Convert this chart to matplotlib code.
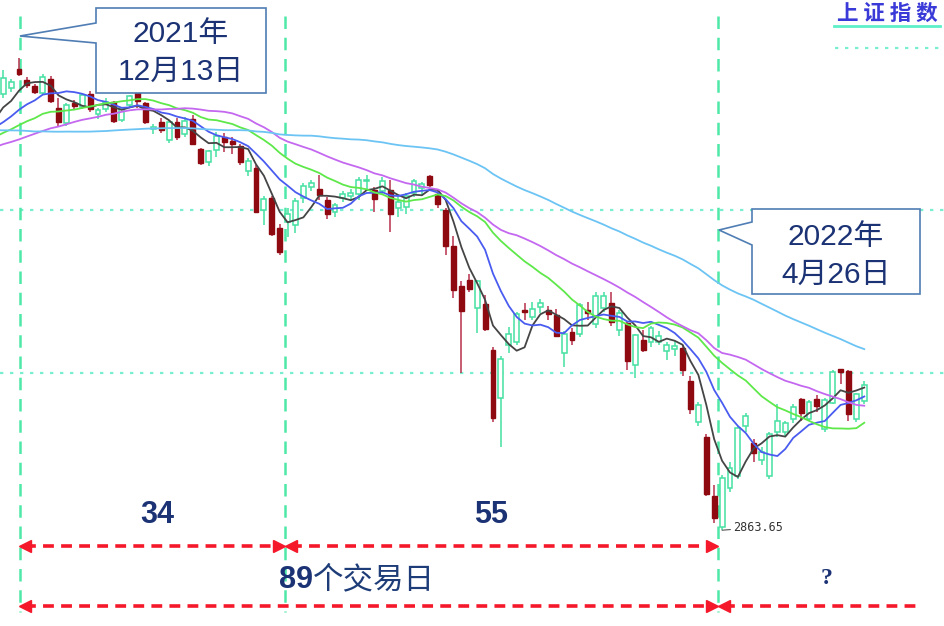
import numpy as np
import pandas as pd
import matplotlib
matplotlib.use("Agg")
import matplotlib.pyplot as plt
from matplotlib import font_manager as fm
from matplotlib.patches import Polygon

# Shanghai Composite daily candles, 2021-12-09 .. 2022-05-26 (day 0 = 2021-12-13)
opens = [3645, 3655, 3690, 3670, 3659, 3646, 3672, 3620, 3593, 3628, 3622, 3645, 3608, 3617, 3630, 3598, 3625,
         3649, 3628, 3581, 3594, 3562, 3594, 3572, 3600, 3546, 3522, 3545, 3568, 3560, 3552, 3507, 3512, 3436, 3458, 3405,
         3415, 3410, 3458, 3478, 3475, 3455, 3433, 3458, 3462, 3465, 3488, 3472, 3470, 3472, 3440, 3443,
         3468, 3476, 3497, 3465, 3437, 3372, 3300, 3312, 3262, 3268, 3186, 3100, 3196, 3200, 3258, 3245, 3264, 3258, 3248, 3180, 3218, 3215, 3258,
         3232, 3262, 3270, 3222, 3235, 3160, 3205, 3200, 3200, 3185, 3188, 3190, 3130, 3058, 3030, 2925, 2870, 2940, 2960,
         3050, 3020, 2990, 2960, 3040, 3040, 3062, 3098, 3062, 3098, 3045, 3092, 3152, 3148, 3062, 3095]
highs = [3688, 3672, 3708, 3674, 3662, 3680, 3676, 3638, 3628, 3634, 3647, 3650, 3620, 3637, 3632, 3621, 3642,
         3652, 3631, 3590, 3601, 3598, 3602, 3603, 3606, 3548, 3544, 3576, 3575, 3567, 3555, 3530, 3517, 3462, 3461, 3412,
         3440, 3458, 3486, 3491, 3500, 3460, 3450, 3470, 3475, 3495, 3500, 3478, 3495, 3490, 3460, 3468,
         3492, 3487, 3500, 3475, 3440, 3390, 3310, 3322, 3312, 3285, 3192, 3175, 3228, 3255, 3270, 3272, 3278, 3265, 3260, 3220, 3225, 3270, 3272,
         3290, 3290, 3290, 3258, 3237, 3215, 3222, 3230, 3220, 3200, 3203, 3195, 3140, 3093, 3035, 2945, 2962, 2985, 3050,
         3073, 3027, 3012, 3040, 3090, 3060, 3090, 3100, 3096, 3105, 3100, 3150, 3153, 3150, 3110, 3130]
lows = [3638, 3648, 3676, 3655, 3644, 3642, 3628, 3588, 3588, 3615, 3618, 3612, 3600, 3612, 3593, 3595, 3620,
        3620, 3590, 3572, 3574, 3556, 3562, 3568, 3553, 3517, 3515, 3531, 3540, 3537, 3518, 3497, 3431, 3410, 3390, 3357,
        3388, 3395, 3450, 3470, 3455, 3420, 3425, 3452, 3455, 3455, 3470, 3433, 3465, 3397, 3425, 3430,
        3460, 3462, 3478, 3440, 3356, 3280, 3145, 3290, 3217, 3220, 3058, 3013, 3180, 3195, 3240, 3240, 3252, 3240, 3210, 3155, 3195, 3210, 3240,
        3225, 3255, 3230, 3212, 3150, 3136, 3182, 3192, 3196, 3168, 3175, 3140, 3072, 3050, 2925, 2877, 2863.65, 2932, 2955,
        3040, 2985, 2980, 2955, 3030, 3030, 3055, 3060, 3060, 3075, 3040, 3090, 3125, 3060, 3058, 3090]
closes = [3673, 3666, 3681, 3661, 3648, 3675, 3632, 3594, 3625, 3623, 3643, 3618, 3616, 3630, 3597, 3619, 3640,
          3632, 3595, 3586, 3580, 3594, 3567, 3597, 3555, 3521, 3542, 3570, 3558, 3555, 3523, 3524, 3433, 3456, 3394, 3361,
          3430, 3453, 3480, 3486, 3463, 3429, 3446, 3466, 3468, 3491, 3491, 3457, 3489, 3430, 3451, 3462,
          3489, 3484, 3481, 3448, 3373, 3294, 3256, 3296, 3310, 3224, 3064, 3171, 3215, 3251, 3254, 3260, 3271, 3250, 3212, 3215, 3204, 3267, 3252,
          3283, 3283, 3237, 3252, 3167, 3213, 3187, 3226, 3211, 3196, 3194, 3151, 3080, 3087, 2929, 2886, 2958, 2975, 3047,
          3068, 3002, 3004, 3036, 3059, 3055, 3084, 3074, 3094, 3086, 3097, 3147, 3147, 3071, 3107, 3123]
# closes before the visible window (2021-09-07 .. 2021-12-08), only used for the moving averages
prior_closes = [3676, 3675, 3693, 3703, 3715, 3662, 3656, 3607, 3613, 3628, 3642, 3613, 3582, 3602, 3536, 3568,
                3592, 3591, 3547, 3562, 3558, 3572, 3568, 3593, 3587, 3594, 3583, 3610, 3598, 3562, 3518, 3547,
                3545, 3505, 3498, 3526, 3491, 3498, 3507, 3492, 3532, 3539, 3533, 3521, 3537, 3520, 3560, 3582,
                3589, 3592, 3584, 3564, 3562, 3564,
                3576, 3573, 3608, 3589, 3595, 3637]
ma_periods = [5, 10, 20, 30, 60]
ma_colors = ['#454545', '#4a5cf0', '#5ee84a', '#c468f0', '#6cc4f4']
low_label = '2863.65'
low_day = 89

W, H = 945, 626


def fx(px):
    return px / W


def fy(py):
    return 1 - py / H


fonts = {f.name for f in fm.fontManager.ttflist}
narrow = 'Liberation Sans Narrow' if 'Liberation Sans Narrow' in fonts else 'Liberation Sans'
cjk = ['Liberation Sans', 'Noto Sans CJK SC', 'DejaVu Sans']
navy = '#1b3274'

fig = plt.figure(figsize=(W / 100, H / 100), dpi=100)
ax = fig.add_axes([0, 0, 1, 1])
ax.axis('off')
ax.set_xlim(-2.405, 117.22)
ax.set_ylim(2692.2, 3812.7)

# candles
pos = np.arange(-2, -2 + len(closes))
o = np.array(opens, float)
hi = np.array(highs, float)
lo = np.array(lows, float)
c = np.array(closes, float)
up = c >= o
green = '#45e0a0'
red = '#8e0a10'
ax.vlines(pos[up], lo[up], hi[up], color=green, lw=1.1, zorder=2)
ax.vlines(pos[~up], lo[~up], hi[~up], color='#b8304c', lw=1.1, zorder=2)
ax.bar(pos[up], c[up] - o[up], bottom=o[up], width=0.62, facecolor='white',
       edgecolor=green, lw=1.1, zorder=2.5)
ax.bar(pos[~up], o[~up] - c[~up], bottom=c[~up], width=0.62, facecolor=red,
       edgecolor=red, lw=1.0, zorder=2.5)

# moving averages
allc = pd.Series(prior_closes + closes, dtype=float)
allpos = np.arange(-2 - len(prior_closes), -2 + len(closes))
for p, col in zip(ma_periods, ma_colors):
    ma = allc.rolling(p).mean()
    keep = allpos >= -3
    ax.plot(allpos[keep], ma[keep], color=col, lw=1.3, zorder=3)

# low label
ax.annotate(low_label, xy=(low_day, lows[low_day + 2]), xytext=(8, 2), textcoords='offset points',
            fontsize=8.5, family='DejaVu Sans Mono', color='#333333', va='center', ha='left',
            arrowprops=dict(arrowstyle='-', color='#555555', lw=0.8, shrinkA=0, shrinkB=0), zorder=6)

tr = ax.transAxes
# dotted horizontal guides
mint = '#7aeed0'
for yy, x0 in [(210, 0), (373, 0), (48, 835)]:
    ax.plot([fx(x0), 1], [fy(yy)] * 2, transform=tr, color=mint, lw=1.6,
            linestyle=(0, (1.5, 3)), zorder=1)

# vertical dashed markers
for xx in [20, 285, 718]:
    ax.plot([fx(xx)] * 2, [fy(16), fy(612)], transform=tr, color='#4ee8a8', lw=1.8,
            linestyle=(0, (5, 3.5)), zorder=1.5)

# legend title
ax.text(fx(887), fy(13), '上 证 指 数', transform=tr, ha='center', va='center', fontsize=15.5,
        family=['Noto Sans CJK SC'], fontweight='bold', color='#3a3ad8', zorder=6)
ax.plot([fx(834), fx(940)], [fy(26)] * 2, transform=tr, color='#5ef0c8', lw=2, zorder=6)

# callout boxes
box_edge = '#4f7db4'
box1 = [(96, 8), (266, 8), (266, 93), (96, 93), (96, 43), (20, 36), (96, 23)]
box2 = [(752, 209), (920, 209), (920, 294), (752, 294), (752, 245), (719, 230), (752, 222)]
for pts in (box1, box2):
    ax.add_patch(Polygon([(fx(a), fy(b)) for a, b in pts], closed=True, transform=tr,
                         facecolor='white', edgecolor=box_edge, lw=1.2, zorder=5))
for xx, yy, s in [(181, 34, '2021年'), (181, 72, '12月13日'),
                  (836, 237, '2022年'), (836, 275, '4月26日')]:
    ax.text(fx(xx), fy(yy), s, transform=tr, ha='center', va='center', fontsize=21.5,
            family=cjk, color=navy, zorder=6)

# counts
for xx, s in [(157, '34'), (491, '55')]:
    ax.text(fx(xx), fy(515), s, transform=tr, ha='center', va='center', fontsize=22,
            family=[narrow, 'Liberation Sans'], fontweight='bold', color=navy)
ax.text(fx(313), fy(580), '89', transform=tr, ha='right', va='center', fontsize=22,
        family=[narrow, 'Liberation Sans'], fontweight='bold', color=navy)
ax.text(fx(313), fy(580), '个交易日', transform=tr, ha='left', va='center', fontsize=22,
        family=['Noto Sans CJK SC'], color='#1e3d78')
ax.text(fx(827), fy(578), '?', transform=tr, ha='center', va='center', fontsize=17,
        family=['Liberation Serif'], fontweight='bold', color=navy)

# red dashed range arrows
arrow_red = '#f5182a'


def span(x0, x1, yy, left=True, right=True):
    a = x0 + (5 if left else 0)
    b = x1 - (5 if right else 0)
    ax.plot([fx(a), fx(b)], [fy(yy)] * 2, transform=tr, color=arrow_red, lw=2.6,
            linestyle=(0, (3, 2)), zorder=4, solid_capstyle='butt')
    if left:
        ax.plot(fx(x0 + 5), fy(yy), marker='<', ms=8.5, color=arrow_red, transform=tr, zorder=4)
    if right:
        ax.plot(fx(x1 - 5), fy(yy), marker='>', ms=8.5, color=arrow_red, transform=tr, zorder=4)


span(20, 284, 546)
span(286, 717, 546)
span(20, 717, 606)
span(719, 920, 606, right=False)

fig.savefig('out.png', dpi=100, facecolor='white')
